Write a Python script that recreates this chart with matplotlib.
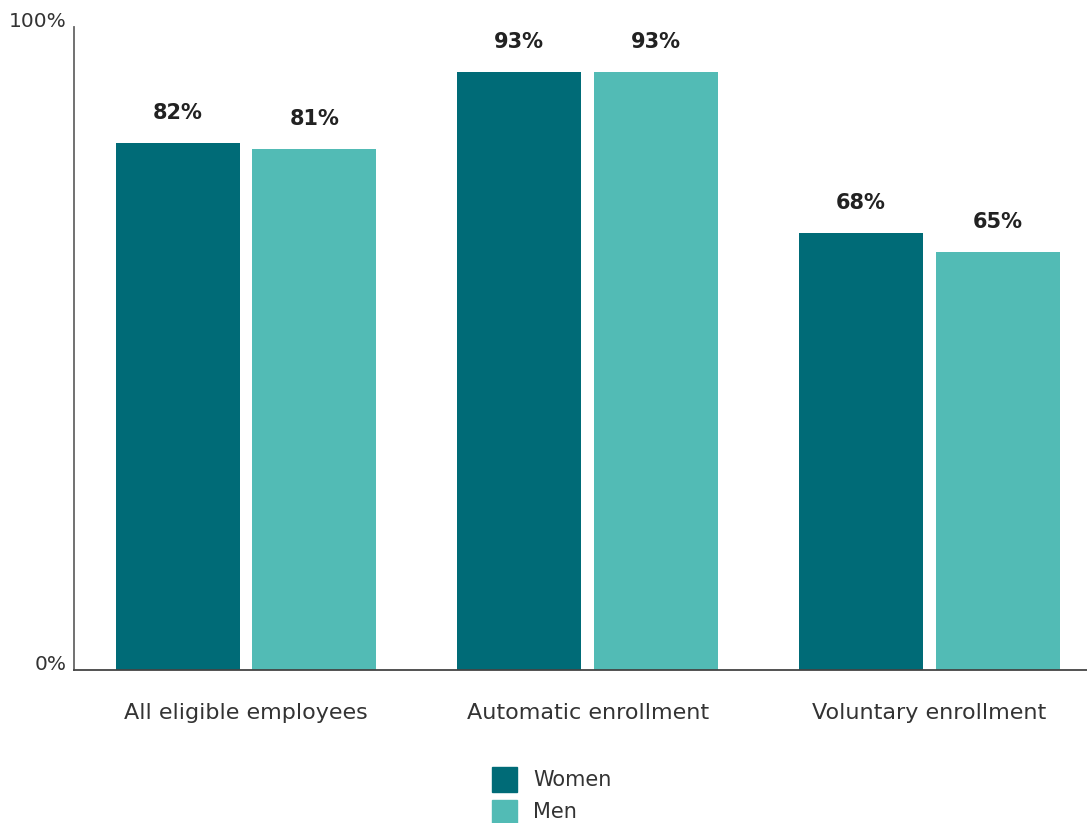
import matplotlib
matplotlib.use("Agg")
import matplotlib.pyplot as plt
from matplotlib.patches import Rectangle
import numpy as np

categories = ["All eligible employees", "Automatic enrollment", "Voluntary enrollment"]
series_names = ["Women", "Men"]
women = [82, 93, 68]
men = [81, 93, 65]
y_ticks = [0, 100]
y_tick_labels = ["0%", "100%"]

colors = ["#006B77", "#52BBB5"]
plt.rcParams["font.family"] = ["DejaVu Sans"]

W, H = 1087, 823
fig = plt.figure(figsize=(W / 100, H / 100), dpi=100)
ax = fig.add_axes([74 / W, (H - 670) / H, (W - 74) / W, (670 - 27) / H])

x = np.arange(len(categories))
width = 0.3628
offset = 0.2004
values = [women, men]
for i, (name, vals) in enumerate(zip(series_names, values)):
    pos = x + (-offset if i == 0 else offset)
    bars = ax.bar(pos, vals, width=width, color=colors[i], label=name, zorder=2)
    for b, v in zip(bars, vals):
        ax.annotate(f"{v}%", (b.get_x() + b.get_width() / 2, v),
                    xytext=(0, 21.5), textcoords="offset points",
                    ha="center", va="center", fontsize=15,
                    fontweight="bold", color="#222222")

ax.set_xlim(-0.5033, 2.461)
ax.set_ylim(0, 100)
ax.set_yticks(y_ticks)
ax.set_yticklabels(y_tick_labels, fontsize=14.5, color="#333333")
for lbl in ax.get_yticklabels():
    lbl.set_verticalalignment("baseline")
ax.set_xticks(x)
ax.set_xticklabels(categories, fontsize=16, color="#333333")
ax.tick_params(axis="x", length=0, pad=24)
ax.tick_params(axis="y", length=0, pad=5.5)

for s in ["top", "right"]:
    ax.spines[s].set_visible(False)
ax.spines["left"].set_color("#666666")
ax.spines["bottom"].set_color("#444444")
ax.spines["left"].set_linewidth(1.3)
ax.spines["bottom"].set_linewidth(1.3)

# legend drawn as squares with labels below the chart
sq = 25
for i, name in enumerate(series_names):
    top = 767 + i * 33
    fig.add_artist(Rectangle((492 / W, (H - top - sq) / H), sq / W, sq / H,
                             transform=fig.transFigure, color=colors[i]))
    fig.text(533 / W, (H - top - sq / 2) / H, name, fontsize=15,
             color="#333333", va="center", ha="left")

fig.savefig("out.png", dpi=100)
